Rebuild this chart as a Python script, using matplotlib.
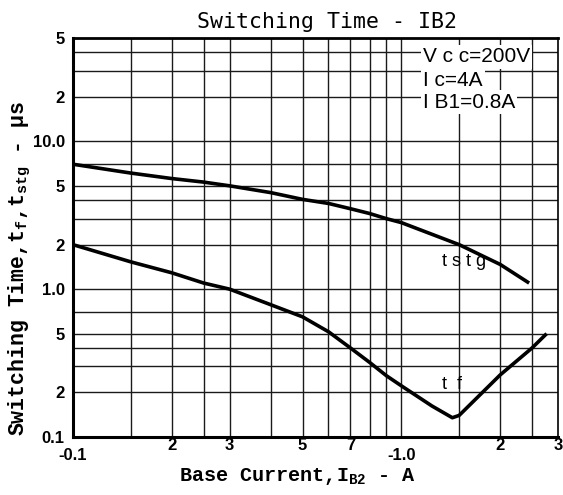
import matplotlib
matplotlib.use("Agg")
import matplotlib.pyplot as plt

# ---- data ----
x_tstg = [0.1, 0.15, 0.2, 0.25, 0.3, 0.4, 0.5, 0.6, 0.7, 0.8, 0.9, 1.0, 1.5, 2.0, 2.45]
tstg = [7.0, 6.1, 5.6, 5.3, 5.0, 4.5, 4.05, 3.8, 3.5, 3.25, 3.0, 2.82, 2.0, 1.47, 1.1]

x_tf = [0.1, 0.15, 0.2, 0.25, 0.3, 0.4, 0.5, 0.6, 0.7, 0.8, 0.9, 1.0, 1.24, 1.43, 1.5, 2.0, 2.5, 2.77]
tf = [2.0, 1.53, 1.29, 1.1, 1.0, 0.785, 0.65, 0.515, 0.40, 0.32, 0.26, 0.222, 0.162, 0.135, 0.14, 0.263, 0.40, 0.5]

x_grid = [0.15, 0.2, 0.25, 0.3, 0.4, 0.5, 0.6, 0.7, 0.8, 0.9, 1.0, 1.5, 2.0, 2.5]
y_grid = [0.2, 0.3, 0.4, 0.5, 0.7, 1.0, 2, 3, 4, 5, 7, 10, 20, 30, 40]

x_ticks = [0.1, 0.2, 0.3, 0.5, 0.7, 1.0, 2, 3]
x_ticklabels = ["", "2", "3", "5", "7", "", "2", "3"]
x_decade_ticks = [0.1, 1.0]
x_decade_labels = ["-0.1", "-1.0"]
y_ticks = [0.1, 0.2, 0.5, 1.0, 2, 5, 10, 20, 50]
y_ticklabels = ["0.1", "2", "5", "1.0", "2", "5", "10.0", "2", "5"]

conditions = ["V c c=200V", "I c=4A", "I B1=0.8A"]

mono = "Liberation Mono"
sans = "Liberation Sans"

fig = plt.figure(figsize=(5.63, 4.95), dpi=100)
ax = fig.add_axes([73/563, 1-437/495, (558-73)/563, (437-38)/495])
ax.set_xscale("log")
ax.set_yscale("log")
ax.set_xlim(0.1, 3)
ax.set_ylim(0.1, 50)

for xv in x_grid:
    ax.axvline(xv, color="#1a1a1a", lw=1.0, zorder=1)
for yv in y_grid:
    ax.axhline(yv, color="#1a1a1a", lw=1.0, zorder=1)

ax.plot(x_tstg, tstg, color="black", lw=2.6, zorder=3, solid_capstyle="butt")
ax.plot(x_tf, tf, color="black", lw=2.6, zorder=3, solid_capstyle="butt")

ax.minorticks_off()
ax.set_xticks(x_ticks)
ax.set_xticklabels(x_ticklabels, fontfamily=sans, fontweight="bold", fontsize=12)
ax.set_yticks(y_ticks)
ax.set_yticklabels(y_ticklabels, fontfamily=sans, fontweight="bold", fontsize=12)
ax.tick_params(axis="both", length=0)
ax.tick_params(axis="x", pad=1)
ax.tick_params(axis="y", pad=6)

# second-row decade labels below the axis
xt = ax.get_xaxis_transform()
for xv, lab in zip(x_decade_ticks, x_decade_labels):
    ax.text(xv, -18/399, lab, transform=xt, fontfamily=sans, fontweight="bold",
            fontsize=12, ha="center", va="center", clip_on=False)

for side, w in [("left", 2.2), ("bottom", 2.2), ("top", 2.0), ("right", 1.2)]:
    ax.spines[side].set_linewidth(w)
    ax.spines[side].set_color("black")

# condition text block (top right)
ypos = [57, 80, 102]
for txt, yp in zip(conditions, ypos):
    fig.text(423/563, 1-yp/495, txt, fontfamily=sans, fontsize=15, ha="left", va="center",
             bbox=dict(facecolor="white", edgecolor="none", pad=1.5), zorder=5)

# curve labels
ax.text(1.55, 1.55, "t s t g", fontfamily=sans, fontsize=13, ha="center", va="center", zorder=4)
ax.text(1.43, 0.225, "t  f", fontfamily=sans, fontsize=13, ha="center", va="center", zorder=4)

fig.text(327/563, 1-22/495, "Switching Time - IB2", fontfamily="DejaVu Sans Mono",
         fontsize=15.5, ha="center", va="center")
fig.text(298/563, 1-481/495, r"Base Current,I$\mathregular{_{B2}}$ - A", fontfamily=mono,
         fontweight="bold", fontsize=14.5, ha="center", va="baseline")
fig.text(20/563, 1-268/495, r"Switching Time,t$\mathregular{_f}$,t$\mathregular{_{stg}}$ - µs",
         fontfamily=mono, fontweight="bold", fontsize=15.5, ha="center", va="center", rotation=90)

fig.savefig("out.png", dpi=100, facecolor="white")
